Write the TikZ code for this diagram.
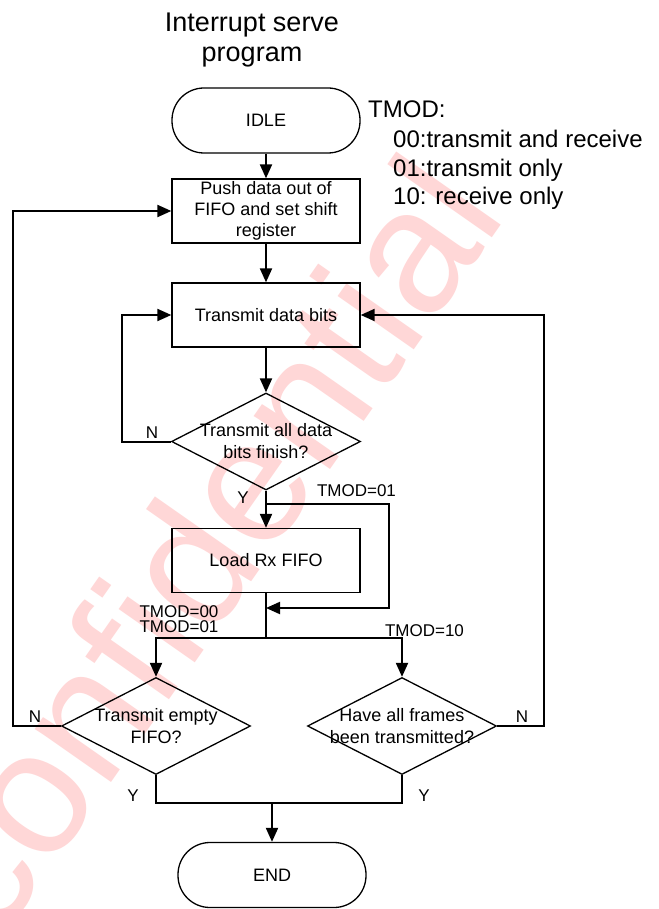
\documentclass[tikz,border=0pt]{standalone}
\usepackage{fontspec}
\setmainfont{Liberation Sans}
\usetikzlibrary{shapes.geometric,arrows.meta}
\definecolor{wmred}{RGB}{255,215,215}
\begin{document}
\begin{tikzpicture}[x=1pt,y=-1pt,
  shapeline/.style={draw=black, line width=1.3pt},
  termbox/.style={shapeline, rectangle, rounded corners=32pt, minimum width=188pt, minimum height=65pt, inner sep=0pt, font=\fontsize{18}{21}\selectfont},
  procbox/.style={shapeline, rectangle, minimum width=188pt, minimum height=64pt, inner sep=0pt, align=center, font=\fontsize{18}{21}\selectfont},
  decbox/.style={shapeline, diamond, minimum width=189pt, minimum height=97pt, inner sep=0pt},
  dtext/.style={align=center, inner sep=0pt, font=\fontsize{18}{22}\selectfont},
  lbl/.style={inner sep=0pt, font=\fontsize{17}{15}\selectfont},
  legend/.style={inner sep=0pt, anchor=base west, font=\fontsize{24}{29}\selectfont},
  titlefont/.style={inner sep=0pt, anchor=base, font=\fontsize{27}{30}\selectfont},
  conn/.style={line width=2pt},
  arr/.style={conn, -{Triangle[length=14pt,width=12pt]}},
]
\useasboundingbox (0,0) rectangle (658,909);
\fill[white] (0,0) rectangle (658,909);

% watermark
\node[text=wmred, inner sep=0pt, font=\fontsize{176}{176}\selectfont, rotate=55, anchor=base] (wm) at (253,580) {confidential};

% title
\node[titlefont] (t1) at (252,32) {Interrupt serve};
\node[titlefont] (t2) at (252,62) {program};

% legend
\node[legend] (leg0) at (368,118) {TMOD:};
\node[legend] (leg1) at (393,148) {00:transmit and receive};
\node[legend] (leg2) at (393,177) {01:transmit only};
\node[legend] (leg3) at (393,205) {10: receive only};

% nodes
\node[termbox] (idle) at (266,120.5) {IDLE};
\node[procbox] (push) at (266,211) {Push data out of\\FIFO and set shift\\register};
\node[procbox] (tx) at (266,315) {Transmit data bits};
\node[decbox] (d1) at (266,441.5) {};
\node[dtext] (d1t) at (266,441) {Transmit all data\\bits finish?};
\node[procbox] (load) at (266,560.5) {Load Rx FIFO};
\node[decbox] (d2) at (156,726) {};
\node[dtext] (d2t) at (156,726) {Transmit empty\\FIFO?};
\node[decbox] (d3) at (402,726) {};
\node[dtext] (d3t) at (402,726) {Have all frames\\been transmitted?};
\node[termbox] (end) at (272,875) {END};

% connectors
\draw[arr] (idle) -- (push);
\draw[arr] (push) -- (tx);
\draw[arr] (tx) -- (d1);
\draw[arr] (d1.west) -- ++(-49,0) |- (tx.west);
\draw[arr] (d1) -- (load);
\coordinate (byp) at (266,504);
\coordinate (merge) at (266,608);
\draw[arr] (byp) -- (389,504) |- (merge);
\coordinate (split) at (266,638);
\draw[conn] (load.south) -- (split);
\draw[arr] (split) -| (d2.north);
\draw[arr] (split) -| (d3.north);
\draw[arr] (d2.west) -- (13,726) |- (push.west);
\draw[arr] (d3.east) -- (544,726) |- (tx.east);
\coordinate (join) at (272,803);
\draw[conn] (d2.south) |- (join) -| (d3.south);
\draw[arr] (join) -- (end);

% labels
\node[lbl] (n1) at (152,433) {N};
\node[lbl] (y1) at (243,498) {Y};
\node[lbl] (m01) at (356.5,491) {TMOD=01};
\node[lbl] (m00) at (179,612) {TMOD=00};
\node[lbl] (m01b) at (179,627) {TMOD=01};
\node[lbl] (m10) at (424.5,631) {TMOD=10};
\node[lbl] (n2) at (35,717) {N};
\node[lbl] (n3) at (522,717) {N};
\node[lbl] (y2) at (133,796) {Y};
\node[lbl] (y3) at (424,796) {Y};
\end{tikzpicture}
\end{document}
